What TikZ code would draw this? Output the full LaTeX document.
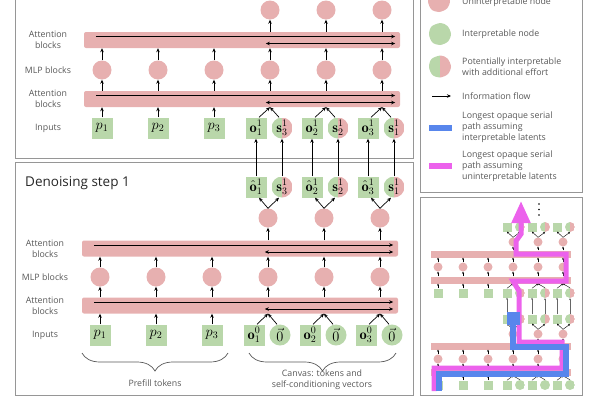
\documentclass[tikz,border=0pt]{standalone}
\usepackage{fontspec}
\newfontfamily\sansf{Open Sans}
\usetikzlibrary{arrows.meta,decorations.pathreplacing}

\definecolor{pinkc}{RGB}{231,176,176}
\definecolor{greenc}{RGB}{185,215,170}
\definecolor{bluec}{RGB}{88,134,236}
\definecolor{magc}{RGB}{236,98,236}
\definecolor{txtc}{RGB}{88,88,88}
\definecolor{framec}{RGB}{150,150,150}

\newcommand{\tokfont}{\fontsize{14.4}{15}\selectfont}
\newcommand{\lblfont}{\sansf\fontsize{8.8}{11}\selectfont}

\tikzset{
  panel/.style={draw=framec, line width=0.8pt},
  bar/.style={fill=pinkc, rounded corners=2pt, minimum width=316pt, minimum height=16pt, inner sep=0pt},
  mlp/.style={circle, fill=pinkc, minimum size=19pt, inner sep=0pt},
  tok/.style={fill=greenc, minimum size=21pt, inner sep=0pt, font=\tokfont},
  zero/.style={circle, fill=greenc, minimum size=21pt, inner sep=0pt, font=\tokfont},
  halfc/.style={circle, minimum size=10pt, inner sep=0pt,
    path picture={\fill[greenc] (path picture bounding box.south west) rectangle (path picture bounding box.north);
                  \fill[fill=#1] (path picture bounding box.south) rectangle (path picture bounding box.north east);}},
  half/.style={halfc=pinkc, minimum size=21pt, font=\tokfont},
  lbl/.style={text=txtc, font=\lblfont, align=center, inner sep=0pt},
  flow/.style={-{Stealth[length=4pt,width=3.5pt]}, line width=0.7pt},
  flow2/.style={{Stealth[length=4pt,width=3.5pt]}-{Stealth[length=4pt,width=3.5pt]}, line width=0.7pt},
  brace/.style={decorate, decoration={brace, mirror, amplitude=18pt}, draw=txtc, line width=0.7pt},
  % small copies for the overview panel
  mbar/.style={fill=pinkc, minimum width=140pt, minimum height=7pt, inner sep=0pt},
  mpink/.style={circle, fill=pinkc, minimum size=9pt, inner sep=0pt},
  msq/.style={fill=greenc, minimum size=9pt, inner sep=0pt},
  mhalf/.style={halfc=pinkc},
  mflow/.style={-{Stealth[length=2pt,width=2pt]}, line width=0.4pt},
}

\def\blobshape{plot[smooth cycle] coordinates {(11,0) (8,7.5) (0,11) (-7.5,8.5) (-11,0.5) (-8.5,-7.5) (0.5,-11) (7.5,-8)}}

\begin{document}
\begin{tikzpicture}[x=1pt, y=-1pt]
\useasboundingbox (0,0) rectangle (600,400);
\clip (0,0) rectangle (600,400);

% Panels
\draw[panel] (15,-5) rectangle (413,158);
\draw[panel] (15,162) rectangle (413,395);
\draw[panel] (420,-5) rectangle (582,192);
\draw[panel] (420,197) rectangle (582,395);

% Upper step
\node[bar] (tA2) at (242,40) {};
\node[bar] (tA1) at (242,99) {};
\draw[flow] ([xshift=12pt,yshift=3.5pt]tA2.west) -- ([xshift=-5pt,yshift=3.5pt]tA2.east);
\draw[flow2] ([xshift=182pt,yshift=-3.5pt]tA2.west) -- ([xshift=-5pt,yshift=-3.5pt]tA2.east);
\draw[flow] ([xshift=12pt,yshift=3.5pt]tA1.west) -- ([xshift=-5pt,yshift=3.5pt]tA1.east);
\draw[flow2] ([xshift=182pt,yshift=-3.5pt]tA1.west) -- ([xshift=-5pt,yshift=-3.5pt]tA1.east);

\node[lbl] (tlA2) at (48,40) {Attention\\blocks};
\node[lbl] (tlM) at (48,70) {MLP blocks};
\node[lbl] (tlA1) at (48,99) {Attention\\blocks};
\node[lbl] (tlI) at (48,128) {Inputs};

\foreach \k in {1,...,6} {
  \node[mlp] (tm\k) at ({102+56*(\k-1)},70) {};
  \draw[flow] (tm\k) -- (tm\k |- tA2.south);
  \draw[flow] (tm\k |- tA1.north) -- (tm\k);
}
\foreach \k in {1,2,3} {
  \node[tok] (tp\k) at ({102+56*(\k-1)},128) {$p_{\k}$};
  \draw[flow] (tp\k) -- (tp\k |- tA1.south);
}
\foreach \k/\j/\s in {4/1/3,5/2/2,6/3/1} {
  \node[tok] (to\j) at ({256+56*(\j-1)},128) {$\mathbf{o}^1_{\j}$};
  \node[half] (ts\j) at ({282+56*(\j-1)},128) {$\mathbf{s}^1_{\s}$};
  \node[mlp] (tu\j) at ({102+56*(\k-1)},10) {};
  \draw[flow] ([xshift=3pt]to\j.north) -- (tm\k |- tA1.south);
  \draw[flow] ([xshift=-3pt]ts\j.north) -- (tm\k |- tA1.south);
  \draw[flow] (tu\j |- tA2.north) -- (tu\j);
}

% Denoising step 1
\node[anchor=west, inner sep=0pt, font=\sansf\fontsize{13.5}{15}\selectfont, text=black!85] (title) at (25,183) {Denoising step 1};
\node[bar] (bA2) at (240,248.5) {};
\node[bar] (bA1) at (240,305.5) {};
\draw[flow] ([xshift=12pt,yshift=3.5pt]bA2.west) -- ([xshift=-5pt,yshift=3.5pt]bA2.east);
\draw[flow2] ([xshift=183pt,yshift=-3.5pt]bA2.west) -- ([xshift=-5pt,yshift=-3.5pt]bA2.east);
\draw[flow] ([xshift=12pt,yshift=3.5pt]bA1.west) -- ([xshift=-5pt,yshift=3.5pt]bA1.east);
\draw[flow2] ([xshift=183pt,yshift=-3.5pt]bA1.west) -- ([xshift=-5pt,yshift=-3.5pt]bA1.east);

\node[lbl] (blA2) at (45,248.5) {Attention\\blocks};
\node[lbl] (blM) at (45,277) {MLP blocks};
\node[lbl] (blA1) at (45,305.5) {Attention\\blocks};
\node[lbl] (blI) at (45,335) {Inputs};

\foreach \k in {1,...,6} {
  \node[mlp] (bm\k) at ({100+56*(\k-1)},277) {};
  \draw[flow] (bm\k) -- (bm\k |- bA2.south);
  \draw[flow] (bm\k |- bA1.north) -- (bm\k);
}
\foreach \k in {1,2,3} {
  \node[tok] (bp\k) at ({100+56*(\k-1)},335) {$p_{\k}$};
  \draw[flow] (bp\k) -- (bp\k |- bA1.south);
}
\foreach \k/\j/\s in {4/1/3,5/2/2,6/3/1} {
  \node[tok] (bi\j) at ({254+56*(\j-1)},335) {$\mathbf{o}^0_{\j}$};
  \node[zero] (bz\j) at ({280+56*(\j-1)},335) {$\vec{0}$};
  \draw[flow] ([xshift=3pt]bi\j.north) -- (bm\k |- bA1.south);
  \draw[flow] ([xshift=-3pt]bz\j.north) -- (bm\k |- bA1.south);
  \node[mlp] (bh\j) at ({100+56*(\k-1)},218) {};
  \draw[flow] (bh\j |- bA2.north) -- (bh\j);
  \node[tok] (bo\j) at ({256+56*(\j-1)},187) {$\hat{\mathbf{o}}^1_{\j}$};
  \node[half] (bs\j) at ({282+56*(\j-1)},187) {$\mathbf{s}^1_{\s}$};
  \draw[flow] (bh\j.north) -- ([xshift=3pt]bo\j.south);
  \draw[flow] (bh\j.north) -- ([xshift=-3pt]bs\j.south);
  % hand over to the next step
  \draw[flow] (bo\j) -- (to\j);
  \draw[flow] (bs\j) -- (ts\j);
}

\draw[brace] (82,353) -- (228,353);
\draw[brace] (249,353) -- (396,353);
\node[lbl] (bpre) at (155,383) {Prefill tokens};
\node[lbl] (bcan) at (322,380) {Canvas: tokens and\\self-conditioning vectors};

% Legend
\fill[pinkc, shift={(439,1)}] \blobshape;
\fill[greenc, shift={(440,34)}] \blobshape;
\begin{scope}
  \clip[shift={(440,66.5)}] \blobshape;
  \fill[greenc] (428,54) rectangle (440,79);
  \fill[pinkc] (440,54) rectangle (453,79);
\end{scope}
\node[lbl, anchor=base west, align=left] (kU) at (462,4) {Uninterpretable node};
\node[lbl, anchor=west, align=left] (kI) at (462,34) {Interpretable node};
\node[lbl, anchor=west, align=left] (kP) at (462,67) {Potentially interpretable\\with additional effort};
\draw[flow] (432,96) -- (451,96);
\node[lbl, anchor=west, align=left] (kF) at (462,96) {Information flow};
\draw[bluec, line width=6pt] (429,128) -- (452,128);
\node[lbl, anchor=west, align=left] (kB) at (462,127) {Longest opaque serial\\path assuming\\interpretable latents};
\draw[magc, line width=6pt] (429,166) -- (452,166);
\node[lbl, anchor=west, align=left] (kM) at (462,166) {Longest opaque serial\\path assuming\\uninterpretable latents};

% Overview of two steps
\foreach \b/\dy/\rc in {u/0/pinkc,l/92/greenc} {
  \node[mbar] (hi\b) at (501,{254+\dy}) {};
  \node[mbar] (lo\b) at (501,{280+\dy}) {};
  \foreach \k in {1,...,6} {
    \node[mpink] (m\b\k) at ({438+25*(\k-1)},{267+\dy}) {};
    \draw[mflow] (m\b\k) -- (m\b\k |- hi\b.south);
    \draw[mflow] (m\b\k |- lo\b.north) -- (m\b\k);
  }
  \foreach \k in {1,2,3} {
    \node[msq] (i\b\k) at ({438+25*(\k-1)},{293+\dy}) {};
    \draw[mflow] (i\b\k) -- (i\b\k |- lo\b.south);
  }
  \foreach \k in {4,5,6} {
    \node[msq] (iq\b\k) at ({432+25*(\k-1)},{293+\dy}) {};
    \node[halfc=\rc] (is\b\k) at ({445+25*(\k-1)},{293+\dy}) {};
    \draw[mflow] (iq\b\k.north) -- (m\b\k |- lo\b.south);
    \draw[mflow] (is\b\k.north) -- (m\b\k |- lo\b.south);
    \node[mpink] (h\b\k) at ({438+25*(\k-1)},{242+\dy}) {};
    \node[msq] (oq\b\k) at ({432+25*(\k-1)},{227+\dy}) {};
    \node[mhalf] (os\b\k) at ({445+25*(\k-1)},{227+\dy}) {};
    \draw[mflow] (h\b\k |- hi\b.north) -- (h\b\k);
    \draw[mflow] (h\b\k.north) -- (oq\b\k.south);
    \draw[mflow] (h\b\k.north) -- (os\b\k.south);
  }
}
\foreach \k in {4,5,6} {
  \draw[mflow, black!60] (oql\k) -- (iqu\k);
  \draw[mflow, black!60] (osl\k) -- (isu\k);
}
\fill (539,204) circle (0.9);
\fill (539,209.5) circle (0.9);
\fill (539,215) circle (0.9);

% Longest paths
\draw[magc, line width=5pt, -{Triangle[length=22pt,width=18pt]}] (434,391) -- (434,368) -- (562,368) -- (562,342) -- (519,342) -- (519,291) -- (513,281) -- (566,281) -- (566,254) -- (516,254) -- (516,241) -- (521,234) -- (521,201);
\draw[bluec, line width=6pt] (439,391) -- (439,374) -- (566,374) -- (566,347) -- (513,347) -- (513,322);
\fill[bluec] (507,312) rectangle (520,325);
\end{tikzpicture}
\end{document}
